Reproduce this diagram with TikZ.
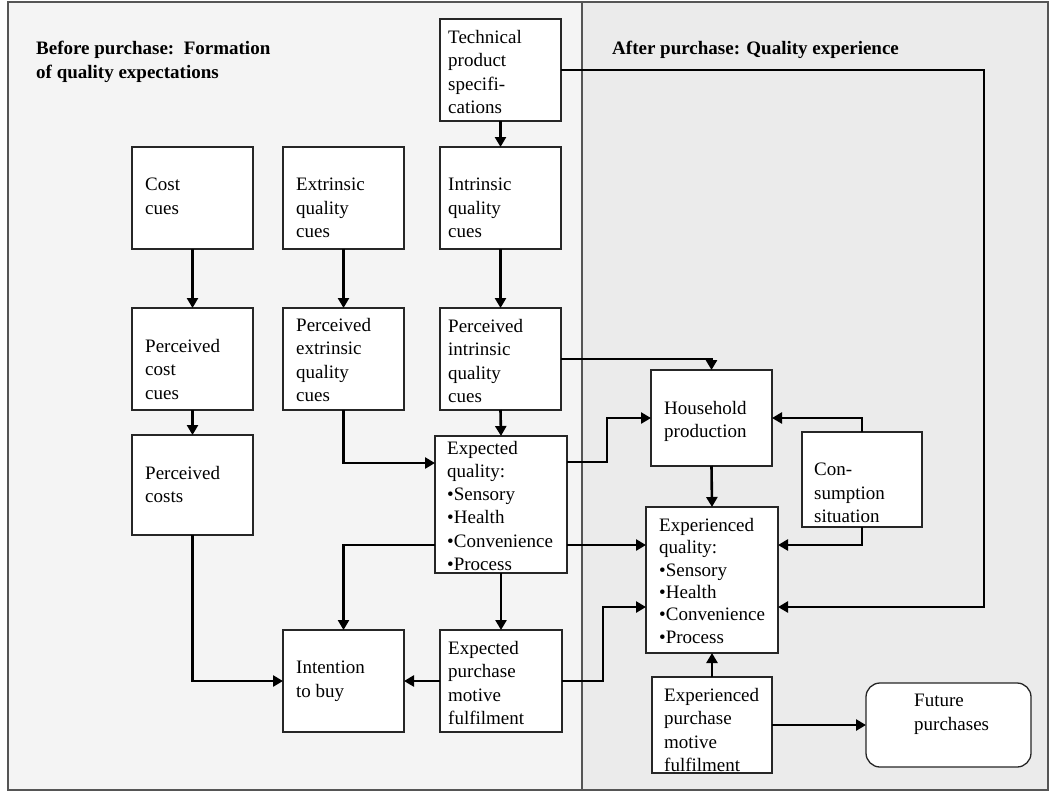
\documentclass[tikz,border=0pt]{standalone}
\usepackage{fontspec}
\setmainfont{Liberation Serif}
\usetikzlibrary{arrows.meta}
\definecolor{leftbg}{HTML}{F4F4F4}
\definecolor{rightbg}{HTML}{EBEBEB}
\definecolor{framec}{HTML}{555555}
\newcommand{\mkbox}[6][]{\node[box,#1,minimum width={(#4-#2)*1pt},minimum height={(#5-#3)*1pt}] (#6) at ({(#2+#4)/2},{(#3+#5)/2}) {};}
\begin{document}
\begin{tikzpicture}[x=1pt,y=-1pt,
  box/.style={draw=black!85,line width=1.3pt,fill=white,rectangle,inner sep=0pt,outer sep=0pt},
  txt/.style={inner sep=0pt,anchor=north west,align=left,font=\fontsize{19}{23.5}\selectfont},
  ttl/.style={inner sep=0pt,anchor=north west,align=left,font=\bfseries\fontsize{19}{24}\selectfont},
  arr/.style={line width=2.6pt,-{Triangle[length=10pt,width=11pt]}}]
\useasboundingbox (0,0) rectangle (1052,793);
% panels
\fill[leftbg] (8,2) rectangle (582,790);
\fill[rightbg] (582,2) rectangle (1048,790);
\draw[framec,line width=1.2pt] (8,2) rectangle (1048,790);
\draw[framec,line width=1.2pt] (582,2) -- (582,790);
% titles
\node[ttl] (ttlL) at (36,41) {Before purchase:\ \ Formation\\of quality expectations};
\node[ttl] (ttlR) at (612,41) {After purchase: Quality experience};
% boxes
\mkbox{440}{19}{561}{121}{tech}
\mkbox{132}{147}{253}{249}{cost}
\mkbox{283}{147}{404}{249}{extr}
\mkbox{440}{147}{561}{249}{intr}
\mkbox{132}{308}{253}{410}{pcost}
\mkbox{283}{308}{404}{410}{pextr}
\mkbox{440}{308}{561}{410}{pintr}
\mkbox{132}{435}{253}{535}{pcosts}
\mkbox{435}{436}{567}{573}{expq}
\mkbox{283}{630}{404}{732}{intent}
\mkbox{440}{630}{562}{732}{epm}
\mkbox{651}{370}{772}{466}{house}
\mkbox{802}{432}{922}{527}{cons}
\mkbox{646}{507}{778}{653}{xq}
\mkbox{652}{677}{772}{773}{xpm}
\mkbox[rounded corners=14pt]{866}{683}{1031}{767}{future}
% texts
\node[txt] (techT) at (448,30) {Technical\\product\\specifi-\\cations};
\node[txt] (costT) at (145,178) {Cost\\cues};
\node[txt] (extrT) at (296,178) {Extrinsic\\quality\\cues};
\node[txt] (intrT) at (448,178) {Intrinsic\\quality\\cues};
\node[txt] (pcostT) at (145,339) {Perceived\\cost\\cues};
\node[txt] (pextrT) at (296,318) {Perceived\\extrinsic\\quality\\cues};
\node[txt] (pintrT) at (448,319) {Perceived\\intrinsic\\quality\\cues};
\node[txt] (pcostsT) at (145,466) {Perceived\\costs};
\node[txt,font=\fontsize{19}{23.2}\selectfont] (expqT) at (447,441) {Expected\\quality:\\•Sensory\\•Health\\•Convenience\\•Process};
\node[txt] (intentT) at (296,661) {Intention\\to buy};
\node[txt] (epmT) at (448,641) {Expected\\purchase\\motive\\fulfilment};
\node[txt] (houseT) at (664,401) {Household\\production};
\node[txt] (consT) at (814,463) {Con-\\sumption\\situation};
\node[txt,font=\fontsize{19}{22.4}\selectfont] (xqT) at (659,518) {Experienced\\quality:\\•Sensory\\•Health\\•Convenience\\•Process};
\node[txt] (xpmT) at (664,688) {Experienced\\purchase\\motive\\fulfilment};
\node[txt] (futureT) at (914,694) {Future\\purchases};
% connectors
\coordinate (rt) at (984,607);
\draw[arr] (tech.south) -- (intr.north);
\draw[arr] (cost.south) -- (pcost.north);
\draw[arr] (extr.south) -- (pextr.north);
\draw[arr] (intr.south) -- (pintr.north);
\draw[arr] (pcost.south) -- (pcosts.north);
\draw[arr] (pintr.south) -- (expq.north);
\draw[arr] (pextr.south) |- (expq.west |- 0,463);
\draw[arr] (pintr.east) -| (house.north);
\draw[arr] (tech.east) -| (rt) -- (xq.east |- rt);
\draw[arr] (expq.east |- 0,462) -- (607,462) |- (house.west);
\draw[arr] (expq.east |- 0,545) -- (xq.west |- 0,545);
\draw[arr] (expq.west |- 0,545) -| (intent.north);
\draw[arr] (expq.south) -- (epm.north);
\draw[arr] (pcosts.south) |- (intent.west);
\draw[arr] (epm.west) -- (intent.east);
\draw[arr] (epm.east) -- (603,681) |- (xq.west |- rt);
\draw[arr] (house.south) -- (xq.north);
\draw[arr] (cons.north) |- (house.east);
\draw[arr] (cons.south) |- (xq.east |- 0,545);
\draw[arr] (xpm.north) -- (xq.south);
\draw[arr] (xpm.east) -- (future.west);
\end{tikzpicture}
\end{document}
